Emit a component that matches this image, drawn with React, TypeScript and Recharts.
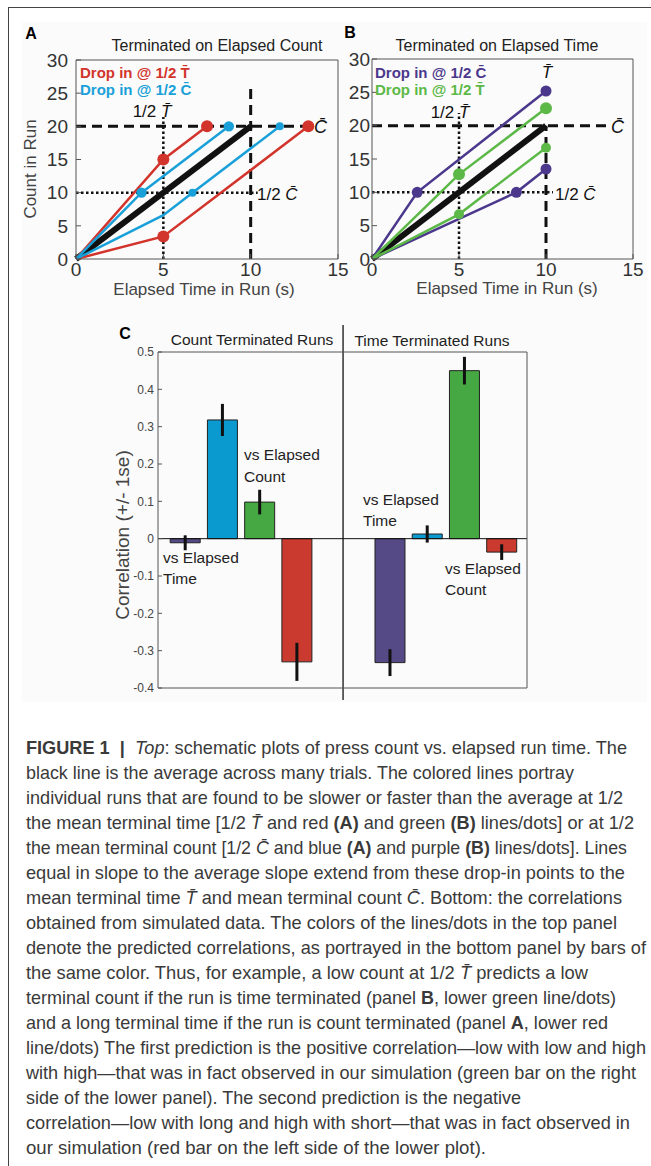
import React from "react";
import {
  ComposedChart,
  Line,
  Scatter,
  Bar,
  Cell,
  ErrorBar,
  XAxis,
  YAxis,
  ReferenceLine,
} from "recharts";

const FONT = '"Liberation Sans", Arial, Helvetica, sans-serif';

const RED = "#d2342b";
const BLUE = "#1aa0d8";
const PURPLE = "#4b388c";
const GREEN = "#5cb947";
const INK = "#111";
const FRAME = "#555";

const T_BAR = "T\u0304";
const C_BAR = "C\u0304";

type Pt = { t: number; c: number };

// shared axes of the two schematic panels
const timeTicks = [0, 5, 10, 15];
const countTicks = [0, 5, 10, 15, 20, 25, 30];

// mean run: 20 presses in 10 s
const meanRun: Pt[] = [{ t: 0, c: 0 }, { t: 10, c: 20 }];

// A: terminated on elapsed count
const redFastA: Pt[] = [{ t: 0, c: 0 }, { t: 5, c: 15 }, { t: 7.5, c: 20 }];
const redSlowA: Pt[] = [{ t: 0, c: 0 }, { t: 5, c: 3.4 }, { t: 13.3, c: 20 }];
const blueFastA: Pt[] = [{ t: 0, c: 0 }, { t: 3.75, c: 10 }, { t: 8.75, c: 20 }];
const blueSlowA: Pt[] = [{ t: 0, c: 0 }, { t: 5, c: 6.6 }, { t: 6.67, c: 10 }, { t: 11.67, c: 20 }];
const redDotsA: Pt[] = [{ t: 5, c: 15 }, { t: 7.5, c: 20 }, { t: 5, c: 3.4 }, { t: 13.3, c: 20 }];
const blueDotsA: Pt[] = [{ t: 3.75, c: 10 }, { t: 8.75, c: 20 }];
const blueSmallDotsA: Pt[] = [{ t: 6.67, c: 10 }, { t: 11.67, c: 20 }];

// B: terminated on elapsed time
const purpleFastB: Pt[] = [{ t: 0, c: 0 }, { t: 2.6, c: 10 }, { t: 10, c: 25.2 }];
const purpleSlowB: Pt[] = [{ t: 0, c: 0 }, { t: 8.3, c: 10 }, { t: 10, c: 13.5 }];
const greenFastB: Pt[] = [{ t: 0, c: 0 }, { t: 5, c: 12.7 }, { t: 10, c: 22.6 }];
const greenSlowB: Pt[] = [{ t: 0, c: 0 }, { t: 5, c: 6.7 }, { t: 10, c: 16.7 }];
const purpleDotsB: Pt[] = [{ t: 2.6, c: 10 }, { t: 10, c: 25.2 }, { t: 8.3, c: 10 }, { t: 10, c: 13.5 }];
const greenDotsB: Pt[] = [{ t: 5, c: 12.7 }, { t: 10, c: 22.6 }];
const greenSmallDotsB: Pt[] = [{ t: 5, c: 6.7 }, { t: 10, c: 16.7 }];

// guide lines (mean terminal count / time and their halves)
const guidesA = { cEnd: 13, tTop: 26.5, halfCEnd: 10.4, halfTTop: 21.4 };
const guidesB = { cEnd: 13.5, tTop: 20, halfCEnd: 10.4, halfTTop: 21.9 };

// C: correlations (+/- 1 se)
const corrPositions = [1, 2, 3, 4, 6.5, 7.5, 8.5, 9.5];
const corrValues = [-0.011, 0.318, 0.098, -0.33, -0.332, 0.0125, 0.45, -0.036];
const corrErrors = [0.02, 0.043, 0.033, 0.051, 0.036, 0.023, 0.037, 0.021];
const corrTicks = [-0.4, -0.3, -0.2, -0.1, 0, 0.1, 0.2, 0.3, 0.4, 0.5];
const corrDivider = 5.25;
const barColors = ["#564a86", "#0a9ad0", "#46a842", "#cb3a2e", "#564a86", "#0a9ad0", "#46a842", "#cb3a2e"];

const corrData = corrPositions.map((pos, i) => ({ pos, r: corrValues[i], se: corrErrors[i] }));

// caption line widths in the figure (px)
const captionWidths = [601, 548, 597, 608, 601, 599, 596, 591, 620, 562, 590, 582, 620, 610, 495, 604, 460];

function Note({
  x,
  y,
  children,
  size = 16,
  color = "#222",
  weight = 400,
  anchor = "middle",
  rotate = false,
}: {
  x: number;
  y: number;
  children: React.ReactNode;
  size?: number;
  color?: string;
  weight?: number;
  anchor?: "start" | "middle" | "end";
  rotate?: boolean;
}) {
  const tx = anchor === "middle" ? "-50%" : anchor === "end" ? "-100%" : "0";
  return (
    <div
      style={{
        position: "absolute",
        left: x,
        top: y,
        transform: `translate(${tx},-50%)${rotate ? " rotate(-90deg)" : ""}`,
        fontSize: size,
        color,
        fontWeight: weight,
        whiteSpace: "nowrap",
        lineHeight: 1,
      }}
    >
      {children}
    </div>
  );
}

const run = (key: string, data: Pt[], color: string, width = 2.5) => (
  <Line
    key={key}
    data={data}
    dataKey="c"
    type="linear"
    stroke={color}
    strokeWidth={width}
    dot={false}
    activeDot={false}
    isAnimationActive={false}
  />
);

const dots = (key: string, data: Pt[], color: string, r: number) => (
  <Scatter
    key={key}
    data={data}
    dataKey="c"
    isAnimationActive={false}
    shape={(p: any) => <circle cx={p.cx} cy={p.cy} r={r} fill={color} />}
  />
);

const guide = (key: string, from: Pt, to: Pt, dotted: boolean) => (
  <ReferenceLine
    key={key}
    segment={[
      { x: from.t, y: from.c },
      { x: to.t, y: to.c },
    ]}
    stroke={INK}
    strokeWidth={dotted ? 2.5 : 3}
    strokeDasharray={dotted ? "2.5 2.5" : "10 6"}
  />
);

const tickFont = { fontSize: 19, fill: "#333", fontFamily: FONT };

const schematicAxes = (yTickMargin: number) => [
  <XAxis
    key="xb"
    type="number"
    dataKey="t"
    domain={[0, 15]}
    ticks={timeTicks}
    interval={0}
    height={30}
    tickSize={-5}
    tickMargin={9}
    tick={tickFont}
    axisLine={{ stroke: FRAME }}
    tickLine={{ stroke: FRAME }}
  />,
  <XAxis
    key="xt"
    xAxisId="top"
    orientation="top"
    type="number"
    domain={[0, 15]}
    ticks={timeTicks}
    interval={0}
    height={1}
    tickSize={-5}
    tick={false}
    axisLine={{ stroke: FRAME }}
    tickLine={{ stroke: FRAME }}
  />,
  <YAxis
    key="yl"
    type="number"
    dataKey="c"
    domain={[0, 30]}
    ticks={countTicks}
    interval={0}
    width={40}
    tickSize={-5}
    tickMargin={yTickMargin}
    tick={tickFont}
    axisLine={{ stroke: FRAME }}
    tickLine={{ stroke: FRAME }}
  />,
  <YAxis
    key="yr"
    yAxisId="right"
    orientation="right"
    type="number"
    domain={[0, 30]}
    ticks={countTicks}
    interval={0}
    width={1}
    tickSize={-5}
    tick={false}
    axisLine={{ stroke: FRAME }}
    tickLine={{ stroke: FRAME }}
  />,
];

function PanelA() {
  const g = guidesA;
  return (
    <>
      <div style={{ position: "absolute", left: 0, top: 0 }}>
        <ComposedChart width={360} height={300} margin={{ top: 59, right: 21, bottom: 11, left: 36 }}>
          {schematicAxes(13)}
          {guide("g1", { t: 0, c: 20 }, { t: g.cEnd, c: 20 }, false)}
          {guide("g2", { t: 10, c: 0 }, { t: 10, c: g.tTop }, false)}
          {guide("g3", { t: 0, c: 10 }, { t: g.halfCEnd, c: 10 }, true)}
          {guide("g4", { t: 5, c: 0 }, { t: 5, c: g.halfTTop }, true)}
          {run("mean", meanRun, INK, 6)}
          {run("rf", redFastA, RED)}
          {run("rs", redSlowA, RED)}
          {run("bf", blueFastA, BLUE)}
          {run("bs", blueSlowA, BLUE)}
          {dots("rd", redDotsA, RED, 6)}
          {dots("bd", blueDotsA, BLUE, 5.2)}
          {dots("bsd", blueSmallDotsA, BLUE, 4)}
        </ComposedChart>
      </div>
      <Note x={31} y={34} size={16} weight={700} color="#000">A</Note>
      <Note x={217} y={46} size={16}>Terminated on Elapsed Count</Note>
      <Note x={80} y={72} size={15} weight={700} color={RED} anchor="start">
        Drop in @ 1/2 {T_BAR}
      </Note>
      <Note x={80} y={89} size={15} weight={700} color={BLUE} anchor="start">
        Drop in @ 1/2 {C_BAR}
      </Note>
      <Note x={152} y={111} size={17} color="#111">
        1/2 <i>{T_BAR}</i>
      </Note>
      <Note x={314} y={127} size={18} color="#111" anchor="start">
        <i>{C_BAR}</i>
      </Note>
      <Note x={257} y={194} size={17} color="#111" anchor="start">
        1/2 <i>{C_BAR}</i>
      </Note>
      <Note x={30} y={169} size={17} color="#444" rotate>
        Count in Run
      </Note>
      <Note x={204} y={289} size={17} color="#444">
        Elapsed Time in Run (s)
      </Note>
    </>
  );
}

function PanelB() {
  const g = guidesB;
  return (
    <>
      <div style={{ position: "absolute", left: 330, top: 0 }}>
        <ComposedChart width={320} height={300} margin={{ top: 58, right: 16, bottom: 11, left: 2 }}>
          {schematicAxes(7)}
          {guide("g1", { t: 0, c: 20 }, { t: g.cEnd, c: 20 }, false)}
          {guide("g2", { t: 10, c: 0 }, { t: 10, c: g.tTop }, false)}
          {guide("g3", { t: 0, c: 10 }, { t: g.halfCEnd, c: 10 }, true)}
          {guide("g4", { t: 5, c: 0 }, { t: 5, c: g.halfTTop }, true)}
          {run("mean", meanRun, INK, 6)}
          {run("pf", purpleFastB, PURPLE)}
          {run("ps", purpleSlowB, PURPLE)}
          {run("gf", greenFastB, GREEN)}
          {run("gs", greenSlowB, GREEN)}
          {dots("pd", purpleDotsB, PURPLE, 5.5)}
          {dots("gd", greenDotsB, GREEN, 6)}
          {dots("gsd", greenSmallDotsB, GREEN, 5)}
        </ComposedChart>
      </div>
      <Note x={350} y={33} size={16} weight={700} color="#000">B</Note>
      <Note x={497} y={46} size={16}>Terminated on Elapsed Time</Note>
      <Note x={375} y={72} size={15} weight={700} color={PURPLE} anchor="start">
        Drop in @ 1/2 {C_BAR}
      </Note>
      <Note x={375} y={89} size={15} weight={700} color={GREEN} anchor="start">
        Drop in @ 1/2 {T_BAR}
      </Note>
      <Note x={547} y={72} size={17} color="#111">
        <i>{T_BAR}</i>
      </Note>
      <Note x={450} y={112} size={17} color="#111">
        1/2 <i>{T_BAR}</i>
      </Note>
      <Note x={611} y={127} size={18} color="#111" anchor="start">
        <i>{C_BAR}</i>
      </Note>
      <Note x={555} y={194} size={17} color="#111" anchor="start">
        1/2 <i>{C_BAR}</i>
      </Note>
      <Note x={507} y={288} size={17} color="#444">
        Elapsed Time in Run (s)
      </Note>
    </>
  );
}

function PanelC() {
  return (
    <>
      <div style={{ position: "absolute", left: 0, top: 300 }}>
        <ComposedChart width={560} height={420} data={corrData} margin={{ top: 51, right: 32, bottom: 31, left: 118 }}>
          <XAxis
            type="number"
            dataKey="pos"
            domain={[0.28, 10.19]}
            ticks={corrPositions}
            interval={0}
            allowDataOverflow
            height={1}
            tick={false}
            tickLine={false}
            axisLine={{ stroke: FRAME }}
          />
          <XAxis
            xAxisId="top"
            orientation="top"
            type="number"
            domain={[0.28, 10.19]}
            allowDataOverflow
            height={1}
            tick={false}
            tickLine={false}
            axisLine={{ stroke: FRAME }}
          />
          <YAxis
            type="number"
            domain={[-0.4, 0.5]}
            ticks={corrTicks}
            interval={0}
            width={40}
            tickSize={-4}
            tickMargin={8}
            tick={{ fontSize: 12, fill: "#444", fontFamily: FONT }}
            axisLine={{ stroke: FRAME }}
            tickLine={{ stroke: FRAME }}
          />
          <YAxis
            yAxisId="right"
            orientation="right"
            type="number"
            domain={[-0.4, 0.5]}
            ticks={corrTicks}
            interval={0}
            width={1}
            tickSize={-4}
            tick={false}
            axisLine={{ stroke: FRAME }}
            tickLine={{ stroke: FRAME }}
          />
          <ReferenceLine
            segment={[
              { x: corrDivider, y: -0.432 },
              { x: corrDivider, y: 0.572 },
            ]}
            ifOverflow="visible"
            stroke={INK}
            strokeWidth={1.3}
          />
          <Bar dataKey="r" barSize={30} isAnimationActive={false}>
            {corrValues.map((_, i) => (
              <Cell key={i} fill={barColors[i]} stroke="#222" strokeWidth={1} />
            ))}
            <ErrorBar dataKey="se" width={0} stroke={INK} strokeWidth={3} direction="y" />
          </Bar>
          <ReferenceLine y={0} stroke={INK} strokeWidth={1} />
        </ComposedChart>
      </div>
      <Note x={125} y={334} size={16} weight={700} color="#000">C</Note>
      <Note x={252} y={340} size={15.5}>Count Terminated Runs</Note>
      <Note x={432} y={341} size={15.5}>Time Terminated Runs</Note>
      <Note x={122} y={535} size={19} color="#444" rotate>
        Correlation (+/- 1se)
      </Note>
      <Note x={163} y={558} size={15.5} anchor="start">vs Elapsed</Note>
      <Note x={163} y={579} size={15.5} anchor="start">Time</Note>
      <Note x={244} y={455} size={15.5} anchor="start">vs Elapsed</Note>
      <Note x={244} y={477} size={15.5} anchor="start">Count</Note>
      <Note x={363} y={500} size={15.5} anchor="start">vs Elapsed</Note>
      <Note x={363} y={521} size={15.5} anchor="start">Time</Note>
      <Note x={445} y={569} size={15.5} anchor="start">vs Elapsed</Note>
      <Note x={445} y={590} size={15.5} anchor="start">Count</Note>
    </>
  );
}

function Caption() {
  const B = (s: string) => <tspan fontWeight="bold">{s}</tspan>;
  const I = (s: string) => <tspan fontStyle="italic">{s}</tspan>;
  const lines: React.ReactNode[] = [
    <>
      {B("FIGURE 1")}
      {"\u00a0\u00a0"}
      {B("|")}
      {"\u00a0\u00a0"}
      {I("Top")}: schematic plots of press count vs. elapsed run time. The
    </>,
    <>black line is the average across many trials. The colored lines portray</>,
    <>individual runs that are found to be slower or faster than the average at 1/2</>,
    <>
      the mean terminal time [1/2 {I(T_BAR)} and red {B("(A)")} and green {B("(B)")} lines/dots] or at 1/2
    </>,
    <>
      the mean terminal count [1/2 {I(C_BAR)} and blue {B("(A)")} and purple {B("(B)")} lines/dots]. Lines
    </>,
    <>equal in slope to the average slope extend from these drop-in points to the</>,
    <>
      mean terminal time {I(T_BAR)} and mean terminal count {I(C_BAR)}. Bottom: the correlations
    </>,
    <>obtained from simulated data. The colors of the lines/dots in the top panel</>,
    <>denote the predicted correlations, as portrayed in the bottom panel by bars of</>,
    <>the same color. Thus, for example, a low count at 1/2 {I(T_BAR)} predicts a low</>,
    <>
      terminal count if the run is time terminated (panel {B("B")}, lower green line/dots)
    </>,
    <>
      and a long terminal time if the run is count terminated (panel {B("A")}, lower red
    </>,
    <>line/dots) The first prediction is the positive correlation{"\u2014"}low with low and high</>,
    <>with high{"\u2014"}that was in fact observed in our simulation (green bar on the right</>,
    <>side of the lower panel). The second prediction is the negative</>,
    <>correlation{"\u2014"}low with long and high with short{"\u2014"}that was in fact observed in</>,
    <>our simulation (red bar on the left side of the lower plot).</>,
  ];
  return (
    <svg
      width={651}
      height={446}
      style={{ position: "absolute", left: 0, top: 720 }}
      fontFamily={FONT}
      fontSize={18.5}
      fill="#3a3a3a"
    >
      {lines.map((l, i) => (
        <text
          key={i}
          x={26}
          y={33.5 + 25 * i}
          textLength={captionWidths[i]}
          lengthAdjust="spacingAndGlyphs"
          style={{ whiteSpace: "pre" }}
        >
          {l}
        </text>
      ))}
    </svg>
  );
}

export default function App() {
  return (
    <div
      style={{
        position: "absolute",
        left: 0,
        top: 0,
        width: 651,
        height: 1166,
        background: "#fff",
        fontFamily: FONT,
        overflow: "hidden",
      }}
    >
      <div style={{ position: "absolute", left: 22, top: 22, width: 625, height: 680, background: "#fbfbfb" }} />
      <div style={{ position: "absolute", left: 8, top: 7, width: 1, height: 1159, background: "#444" }} />
      <div style={{ position: "absolute", left: 8, top: 7, width: 643, height: 1, background: "#444" }} />
      <PanelA />
      <PanelB />
      <PanelC />
      <Caption />
    </div>
  );
}
